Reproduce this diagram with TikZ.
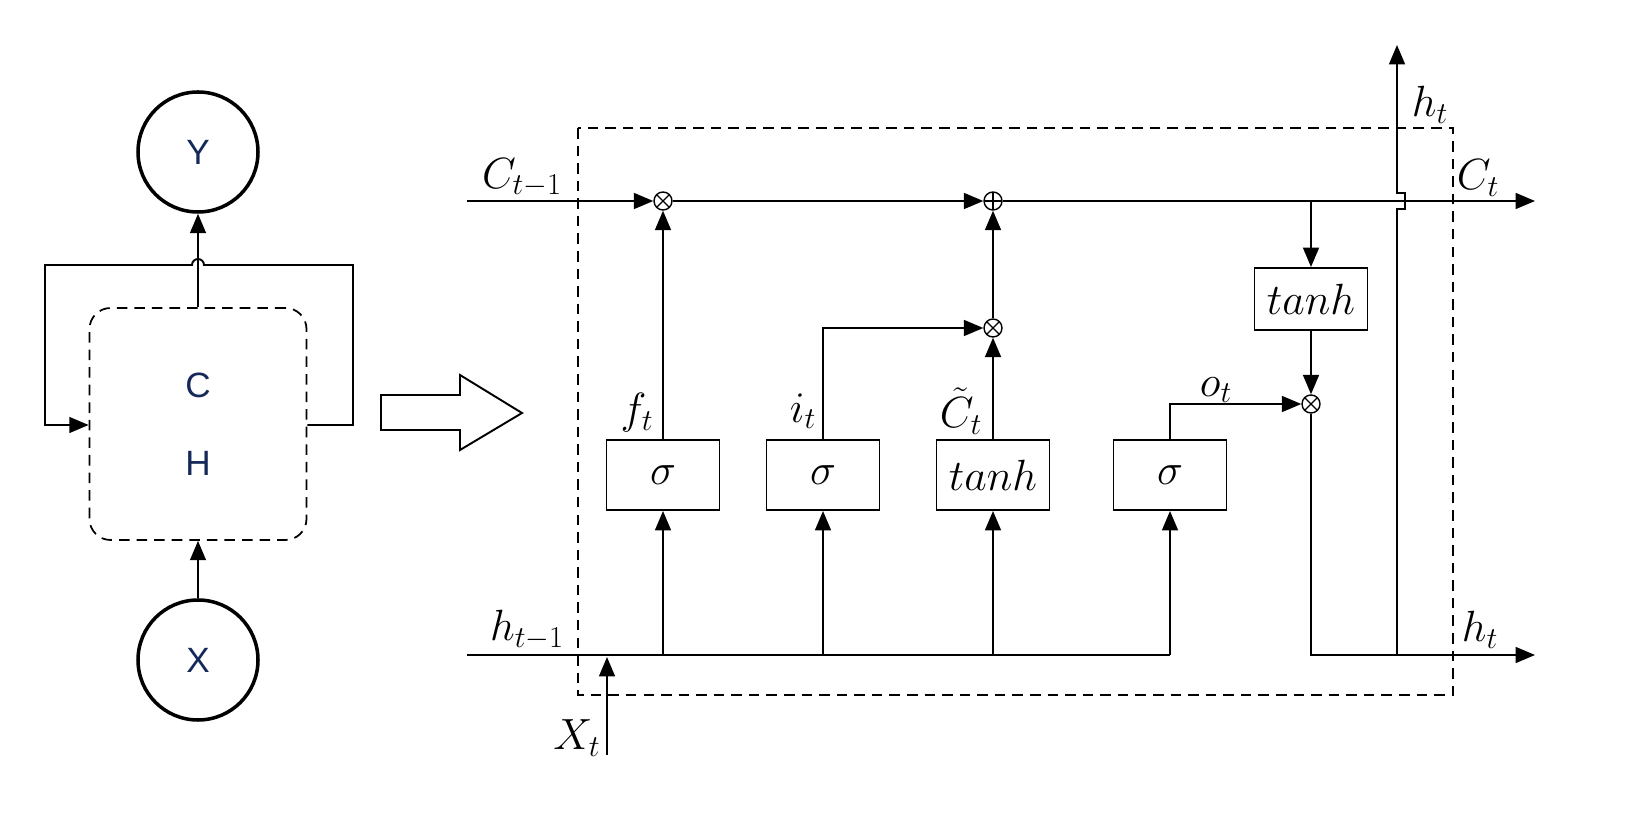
\documentclass[tikz,border=0pt]{standalone}
\usepackage{fontspec}
\newfontfamily\sansf{Liberation Sans}
\usetikzlibrary{arrows.meta}
\begin{document}
\begin{tikzpicture}[x=0.02cm,y=-0.02cm,line width=1.1pt,
  arr/.style={-{Triangle[length=11pt,width=9pt]}},
  big/.style={font=\fontsize{24}{28}\selectfont},
  lbl/.style={font=\fontsize{20}{24}\selectfont\sansf,text={rgb,255:red,20;green,40;blue,90}},
  gate/.style={draw,minimum width=113*0.02cm,minimum height=70*0.02cm,inner sep=0,big},
  mul/.style={draw,circle,minimum size=18*0.02cm,inner sep=0,line width=0.8pt,
     path picture={\draw[line width=0.7pt] (path picture bounding box.south west)--(path picture bounding box.north east) (path picture bounding box.north west)--(path picture bounding box.south east);}},
  add/.style={draw,circle,minimum size=18*0.02cm,inner sep=0,line width=0.8pt,
     path picture={\draw[line width=0.7pt] (path picture bounding box.south)--(path picture bounding box.north) (path picture bounding box.west)--(path picture bounding box.east);}},
  dsh/.style={dashed,dash pattern=on 6pt off 4pt,line width=1pt}]
\useasboundingbox (0,0) rectangle (1642,830);
% left part
\node[draw,circle,line width=2pt,minimum size=120*0.02cm,lbl] (Y) at (198,152) {Y};
\node[draw,circle,line width=2pt,minimum size=120*0.02cm,lbl] (X) at (198,660) {X};
\node[draw,dsh,rounded corners=12pt,minimum width=217*0.02cm,minimum height=232*0.02cm] (R) at (198,424) {};
\node[lbl] (Cc) at (198,385) {C};
\node[lbl] (Hh) at (198,463) {H};
\draw[arr] (R.north) -- (Y.south);
\draw[arr] (X.north) -- (R.south);
\coordinate (Rr) at (R.east|-0,425);
\coordinate (Rl) at (R.west|-0,425);
\draw[arr] (Rr) -- (353,425) -- (353,265) -- (204,265) arc[start angle=0,end angle=-180,radius=6] -- (45,265) -- (45,425) -- (Rl);
% hollow arrow
\draw[line width=1.1pt] (381,395) -- (460,395) -- (460,375) -- (522,413) -- (460,450) -- (460,430) -- (381,430) -- cycle;
% right part
\draw[dsh] (578,128) rectangle (1453,695);
\node[mul] (m1) at (663,201) {};
\node[add] (a1) at (993,201) {};
\node[mul] (m2) at (993,328) {};
\node[mul] (m3) at (1311,404) {};
\node[gate] (g1) at (663,475) {$\sigma$};
\node[gate] (g2) at (823,475) {$\sigma$};
\node[gate] (g3) at (993,475) {$tanh$};
\node[gate] (g4) at (1170,475) {$\sigma$};
\node[gate,minimum height=62*0.02cm] (g5) at (1311,299) {$tanh$};
\coordinate (cin) at (467,201);
\coordinate (cout) at (1535,201);
\coordinate (hin) at (467,655);
\coordinate (hout) at (1535,655);
\coordinate (htop) at (1397,45);
\coordinate (xin) at (607,755);
\draw[arr] (cin) -- (m1);
\draw[arr] (m1) -- (a1);
\draw[arr] (a1) -- (cout);
\draw (hin) -- (g4.south|-hin);
\draw[arr] (g1.south|-hin) -- (g1.south);
\draw[arr] (g2.south|-hin) -- (g2.south);
\draw[arr] (g3.south|-hin) -- (g3.south);
\draw[arr] (g4.south|-hin) -- (g4.south);
\draw[arr] (g1.north) -- (m1);
\draw[arr] (g2.north) -- (823,328) -- (m2);
\draw[arr] (g3.north) -- (m2);
\draw[arr] (m2) -- (a1);
\draw[arr] (g4.north) -- (1170,404) -- (m3);
\draw[arr] (g5.north|-cout) -- (g5.north);
\draw[arr] (g5.south) -- (m3);
\draw[arr] (m3) -- (1311,655) -- (hout);
\draw[arr] (1397,655) -- (1397,209) -- (1405,209) -- (1405,193) -- (1397,193) -- (htop);
\draw[arr] (xin) -- (607,657);
% labels
\node[big] (l1) at (522,178) {$C_{t-1}$};
\node[big] (l2) at (527,630) {$h_{t-1}$};
\node[big] (l3) at (637,413) {$f_t$};
\node[big] (l4) at (803,411) {$i_t$};
\node[big] (l5) at (961,411) {$\tilde{C}_t$};
\node[big] (l6) at (1216,390) {$o_t$};
\node[big] (l7) at (1430,105) {$h_t$};
\node[big] (l8) at (1478,178) {$C_t$};
\node[big] (l9) at (1480,630) {$h_t$};
\node[big] (l10) at (577,738) {$X_t$};
\end{tikzpicture}
\end{document}
